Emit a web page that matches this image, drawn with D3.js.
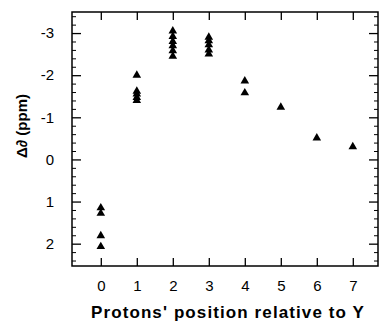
<!DOCTYPE html>
<html><head><meta charset="utf-8">
<script src="https://cdn.jsdelivr.net/npm/d3@7"></script>
<style>body{margin:0;background:#fff}svg{display:block}</style>
</head><body>
<script>
const positions = [0,1,2,3,4,5,6,7];
const xTicks = [0,1,2,3,4,5,6,7];
const yTicks = [-3,-2,-1,0,1,2];
const pos0 = [1.15, 1.28, 1.81, 2.07];
const pos1 = [-2.0, -1.62, -1.55, -1.47, -1.4];
const pos2 = [-3.05, -2.92, -2.8, -2.7, -2.58, -2.45];
const pos3 = [-2.9, -2.82, -2.72, -2.6, -2.5];
const pos4 = [-1.86, -1.58];
const pos5 = [-1.24];
const pos6 = [-0.51];
const pos7 = [-0.30];
const series = [pos0,pos1,pos2,pos3,pos4,pos5,pos6,pos7];

const W=383,H=322;
const m={l:72,r:5,t:12,b:56};
const svg=d3.select("body").append("svg").attr("width",W).attr("height",H);
const x=d3.scaleLinear().domain([-0.8,7.7]).range([m.l,W-m.r]);
const y=d3.scaleLinear().domain([-3.5,2.53]).range([m.t,H-m.b]);
const font="Liberation Sans, Arial, sans-serif";
const fmt=d=>String(d);

const points=[];
series.forEach((vals,i)=>vals.forEach(v=>points.push({x:positions[i],y:v})));

// frame
svg.append("rect").attr("x",m.l).attr("y",m.t).attr("width",W-m.r-m.l).attr("height",H-m.b-m.t)
  .attr("fill","none").attr("stroke","#000").attr("stroke-width",1.5);

const minor=d3.range(-3.4,2.6,0.2).map(v=>+v.toFixed(2)).filter(v=>Math.abs(v-Math.round(v))>1e-6);

// left axis
const gL=svg.append("g").attr("transform",`translate(${m.l},0)`)
  .call(d3.axisLeft(y).tickValues(yTicks).tickSize(-9).tickPadding(18).tickFormat(fmt));
gL.select(".domain").remove();
gL.selectAll("text").attr("font-family",font).attr("font-size",15).attr("fill","#000");
gL.selectAll("line").attr("stroke-width",1.3);
svg.append("g").attr("transform",`translate(${m.l},0)`)
  .call(d3.axisLeft(y).tickValues(minor).tickSize(-4).tickFormat(""))
  .call(g=>g.select(".domain").remove()).selectAll("line").attr("stroke-width",1);
// right axis
svg.append("g").attr("transform",`translate(${W-m.r},0)`)
  .call(d3.axisRight(y).tickValues(yTicks).tickSize(-9).tickFormat(""))
  .call(g=>g.select(".domain").remove()).selectAll("line").attr("stroke-width",1.3);
svg.append("g").attr("transform",`translate(${W-m.r},0)`)
  .call(d3.axisRight(y).tickValues(minor).tickSize(-4).tickFormat(""))
  .call(g=>g.select(".domain").remove()).selectAll("line").attr("stroke-width",1);
// bottom axis
const gB=svg.append("g").attr("transform",`translate(0,${H-m.b})`)
  .call(d3.axisBottom(x).tickValues(xTicks).tickSize(-8).tickPadding(14).tickFormat(fmt));
gB.select(".domain").remove();
gB.selectAll("text").attr("font-family",font).attr("font-size",15).attr("fill","#000");
gB.selectAll("line").attr("stroke-width",1.3);
// top axis
svg.append("g").attr("transform",`translate(0,${m.t})`)
  .call(d3.axisTop(x).tickValues(xTicks).tickSize(-8).tickFormat(""))
  .call(g=>g.select(".domain").remove()).selectAll("line").attr("stroke-width",1.3);

// points
const tri=d3.symbol().type(d3.symbolTriangle).size(32);
svg.append("g").selectAll("path").data(points).join("path")
  .attr("d",tri).attr("transform",d=>`translate(${x(d.x)},${y(d.y)})`).attr("fill","#000");

// labels
svg.append("text").attr("x",(m.l+W-m.r)/2+3).attr("y",318).attr("text-anchor","middle")
  .attr("font-family",font).attr("font-weight","bold").attr("font-size",17).attr("letter-spacing",1.1)
  .text("Protons' position relative to Y");
svg.append("text").attr("transform",`translate(27,${126}) rotate(-90)`).attr("text-anchor","middle")
  .attr("font-family",font).attr("font-weight","bold").attr("font-size",15)
  .text("Δ∂ (ppm)");
</script>
</body></html>
